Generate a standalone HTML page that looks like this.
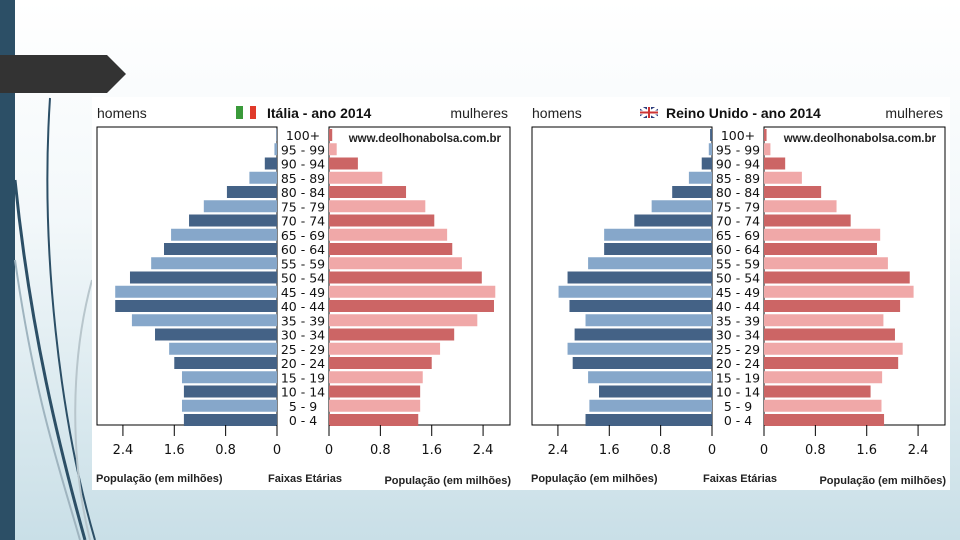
<!DOCTYPE html>
<html><head><meta charset="utf-8"><style>
html,body{margin:0;padding:0}
body{width:960px;height:540px;overflow:hidden;background:linear-gradient(#ffffff 0%,#f3f8fa 40%,#c9dfe7 100%);position:relative;font-family:"Liberation Sans",sans-serif}
</style></head><body>
<div style="position:absolute;left:0;top:0;width:15px;height:540px;background:#2c4f66"></div>
<svg style="position:absolute;left:0;top:0" width="100" height="540">
<path d="M50 98 C40 250 60 420 95 540" stroke="#2c4f66" stroke-width="2" fill="none"/>
<path d="M15 180 C30 330 60 450 85 540" stroke="#2c4f66" stroke-width="3" fill="none"/>
<path d="M15 260 C35 400 60 470 80 540" stroke="#9fb4bf" stroke-width="2" fill="none"/>
<path d="M92 280 C70 360 70 460 90 540" stroke="#b8c6cc" stroke-width="2" fill="none"/>
</svg>
<svg style="position:absolute;left:0;top:55px" width="130" height="40"><polygon points="0,0 107,0 126,19 107,38 0,38" fill="#333"/></svg>
<div style="position:absolute;left:92px;top:97px;width:858px;height:393px;background:#fff"></div>
<svg id="chart" style="position:absolute;left:0;top:0" width="960" height="540"></svg>
<script>
const ages=["100+","95 - 99","90 - 94","85 - 89","80 - 84","75 - 79","70 - 74","65 - 69","60 - 64","55 - 59","50 - 54","45 - 49","40 - 44","35 - 39","30 - 34","25 - 29","20 - 24","15 - 19","10 - 14","5 - 9","0 - 4"];
const itMale=[0.01,0.04,0.19,0.43,0.78,1.14,1.37,1.65,1.76,1.96,2.29,2.52,2.52,2.26,1.90,1.68,1.60,1.48,1.45,1.48,1.45];
const itFemale=[0.05,0.12,0.45,0.83,1.20,1.50,1.64,1.84,1.92,2.07,2.38,2.59,2.57,2.31,1.95,1.73,1.60,1.46,1.42,1.42,1.39];
const ukMale=[0.03,0.05,0.16,0.36,0.62,0.94,1.21,1.68,1.68,1.93,2.25,2.39,2.22,1.97,2.14,2.25,2.17,1.93,1.76,1.91,1.97];
const ukFemale=[0.04,0.10,0.33,0.59,0.89,1.13,1.35,1.81,1.76,1.93,2.27,2.33,2.12,1.86,2.04,2.16,2.09,1.84,1.66,1.83,1.87];
const ticks=[0,0.8,1.6,2.4];
const tickLabels=["0","0.8","1.6","2.4"];
const svg=document.getElementById('chart');
const NS='http://www.w3.org/2000/svg';
function mk(t,a,txt){const e=document.createElementNS(NS,t);for(const k in a)e.setAttribute(k,a[k]);if(txt!==undefined)e.textContent=txt;svg.appendChild(e);return e;}
const S=64.2;
function yRow(i){return 135+i*14.25;}
function panel(ox,title,titleX,male,female,flag){
  const mz=ox+277,fz=ox+329;
  const xm=v=>mz-v*S;
  const xf=v=>fz+v*S;
  let e;
  e=mk('rect',{x:ox+97,y:127,width:180,height:298,fill:'#fff',stroke:'#000','stroke-width':1});
  
  e=mk('rect',{x:fz,y:127,width:181,height:298,fill:'#fff',stroke:'#000','stroke-width':1});
  
  ages.forEach((a,i)=>{
    const y=yRow(i), light=(i%2===1);
    e=mk('rect',{x:xm(male[i]),y:y-6,width:male[i]*S,height:12,fill:light?'#86a7ca':'#446286'});
    
    e=mk('rect',{x:fz,y:y-6,width:female[i]*S,height:12,fill:light?'#f0a8a8':'#cc6565'});
    
    e=mk('text',{x:ox+303,y:y+5,'text-anchor':'middle','font-size':12.5,fill:'#111','font-family':'DejaVu Sans, sans-serif'},a);
    
  });
  ticks.forEach((t,k)=>{
    [xm(t),xf(t)].forEach(x=>{
      e=mk('line',{x1:x,y1:425,x2:x,y2:436,stroke:'#000'});
      
      e=mk('text',{x:x,y:454,'text-anchor':'middle','font-size':13,fill:'#111','font-family':'DejaVu Sans, sans-serif'},tickLabels[k]);
      
    });
  });
  e=mk('text',{x:ox+97,y:118,'font-size':14,fill:'#222'},'homens');
  e=mk('text',{x:ox+508,y:118,'font-size':14,fill:'#222','text-anchor':'end'},'mulheres');
  e=mk('text',{x:titleX,y:118,'font-size':14,'font-weight':'bold',fill:'#111'},title);
  e=mk('text',{x:ox+501,y:142,'font-size':11.5,'font-weight':'bold',fill:'#222','text-anchor':'end'},'www.deolhonabolsa.com.br');
  e=mk('text',{x:ox+96,y:482,'font-size':11,'font-weight':'bold',fill:'#222'},'População (em milhões)');
  e=mk('text',{x:ox+305,y:482,'font-size':11,'font-weight':'bold',fill:'#222','text-anchor':'middle'},'Faixas Etárias');
  e=mk('text',{x:ox+511,y:484,'font-size':11,'font-weight':'bold',fill:'#222','text-anchor':'end'},'População (em milhões)');
  flag(ox);
}
panel(0,'Itália - ano 2014',267,itMale,itFemale,function(ox){
  let e;
  e=mk('rect',{x:236,y:106,width:7,height:13,fill:'#3a9a3a'});
  mk('rect',{x:243,y:106,width:7,height:13,fill:'#fff'});
  mk('rect',{x:250,y:106,width:6,height:13,fill:'#e03a2a'});
});
panel(435,'Reino Unido - ano 2014',666,ukMale,ukFemale,function(ox){
  let e=mk('rect',{x:640,y:107,width:18,height:11,fill:'#2a3a7a'});
  mk('path',{d:'M640 107 L658 118 M658 107 L640 118',stroke:'#fff','stroke-width':3});
  mk('path',{d:'M649 107 V118 M640 112.5 H658',stroke:'#fff','stroke-width':4});
  mk('path',{d:'M649 107 V118 M640 112.5 H658',stroke:'#c33','stroke-width':2});
});
</script>
</body></html>
